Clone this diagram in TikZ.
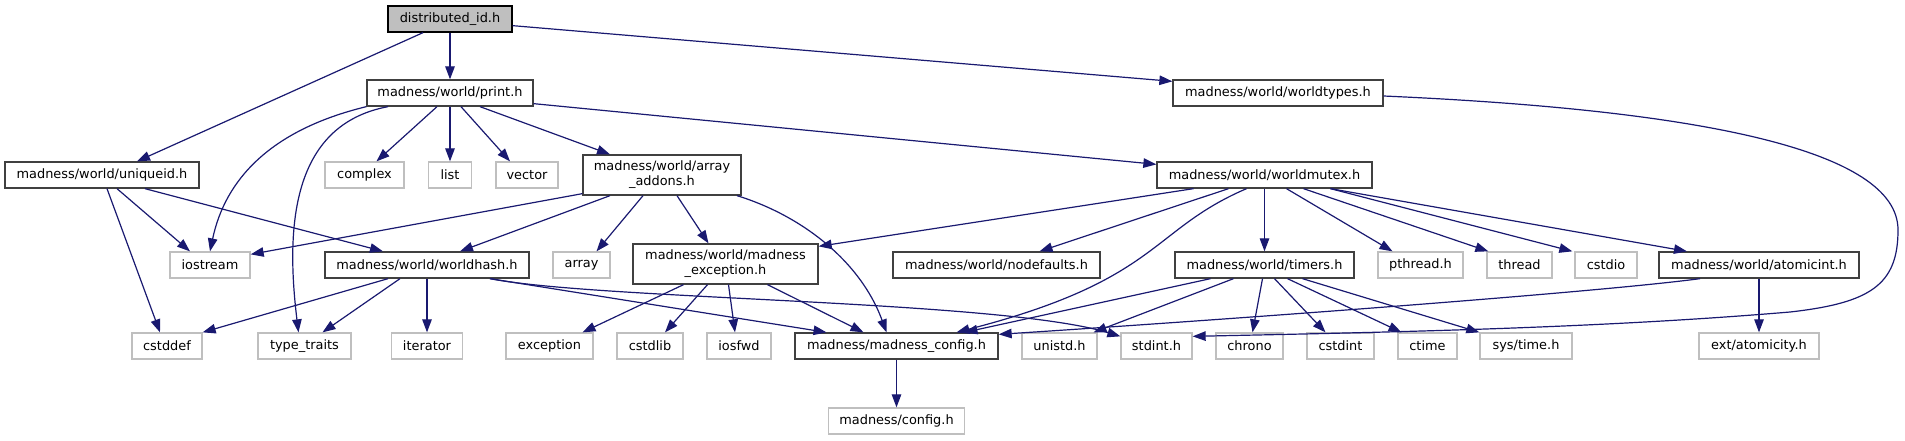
\documentclass[tikz,border=0pt]{standalone}
\usepackage{fontspec}
\setmainfont{DejaVu Sans}
\usetikzlibrary{arrows.meta}
\definecolor{edgeblue}{HTML}{191970}
\definecolor{docgray}{HTML}{404040}
\definecolor{extgray}{HTML}{BFBFBF}
\tikzset{
  D/.style={draw=docgray, fill=white, line width=1.3pt, minimum height=26pt,
    inner sep=0pt, align=center, font=\fontsize{12.9}{15}\selectfont},
  X/.style={D, draw=extgray},
  R/.style={D, draw=black, fill=extgray},
  a/.style={-{Triangle[length=13pt,width=9.5pt]}, line width=1.2pt, color=edgeblue},
}

\begin{document}
\begin{tikzpicture}[x=1pt, y=-1pt]
\useasboundingbox (0,0) rectangle (1905,440);

% ═══════════════════════════════════════════════════════════════
% ROW 0 / 1 -- root and direct includes
% ═══════════════════════════════════════════════════════════════
\node[R, minimum width=124pt] at (450,19) (dist) {distributed\_id.h};

\node[D, minimum width=166pt] at (450,93) (print) {madness/world/print.h};
\node[D, minimum width=210pt] at (1278,93) (worldtypes) {madness/world/worldtypes.h};

% ═══════════════════════════════════════════════════════════════
% ROW 2
% ═══════════════════════════════════════════════════════════════
\node[D, minimum width=194pt] at (102,175) (uniqueid) {madness/world/uniqueid.h};
\node[X, minimum width=79pt] at (364.5,175) (complex) {complex};
\node[X, minimum width=43pt] at (450,175) (list) {list};
\node[X, minimum width=62pt] at (527,175) (vector) {vector};
\node[D, minimum width=158pt, minimum height=40pt] at (662,175) (addons)
  {madness/world/array\\\_addons.h};
\node[D, minimum width=215pt] at (1264.5,175) (worldmutex) {madness/world/worldmutex.h};

% ═══════════════════════════════════════════════════════════════
% ROW 3
% ═══════════════════════════════════════════════════════════════
\node[X, minimum width=80pt] at (210,265) (iostream) {iostream};
\node[D, minimum width=204pt] at (427,265) (worldhash) {madness/world/worldhash.h};
\node[X, minimum width=57pt] at (581.5,265) (array) {array};
\node[D, minimum width=185pt, minimum height=40pt] at (725.5,264) (exch)
  {madness/world/madness\\\_exception.h};
\node[D, minimum width=207pt] at (996.5,265) (nodefaults) {madness/world/nodefaults.h};
\node[D, minimum width=179pt] at (1264.5,265) (timers) {madness/world/timers.h};
\node[X, minimum width=85pt] at (1420.5,265) (pthread) {pthread.h};
\node[X, minimum width=65pt] at (1519.5,265) (thread) {thread};
\node[X, minimum width=62pt] at (1606,265) (cstdio) {cstdio};
\node[D, minimum width=200pt] at (1759,265) (atomicint) {madness/world/atomicint.h};

% ═══════════════════════════════════════════════════════════════
% ROW 4
% ═══════════════════════════════════════════════════════════════
\node[X, minimum width=70pt] at (167,346) (cstddef) {cstddef};
\node[X, minimum width=93pt] at (304.5,346) (type_traits) {type\_traits};
\node[X, minimum width=71pt] at (427,346) (iterator) {iterator};
\node[X, minimum width=87pt] at (549.5,346) (exception) {exception};
\node[X, minimum width=66pt] at (650,346) (cstdlib) {cstdlib};
\node[X, minimum width=64pt] at (739,346) (iosfwd) {iosfwd};
\node[D, minimum width=203pt] at (896.5,346) (mconfig) {madness/madness\_config.h};
\node[X, minimum width=75pt] at (1059.5,346) (unistd) {unistd.h};
\node[X, minimum width=71pt] at (1156.5,346) (stdint) {stdint.h};
\node[X, minimum width=67pt] at (1249.5,346) (chrono) {chrono};
\node[X, minimum width=67pt] at (1340.5,346) (cstdint) {cstdint};
\node[X, minimum width=59pt] at (1427.5,346) (ctime) {ctime};
\node[X, minimum width=92pt] at (1526,346) (systime) {sys/time.h};
\node[X, minimum width=120pt] at (1759,346) (atomicity) {ext/atomicity.h};

% ROW 5
\node[X, minimum width=136pt] at (896.5,421) (configh) {madness/config.h};

% ═══════════════════════════════════════════════════════════════
% EDGES
% ═══════════════════════════════════════════════════════════════
% distributed_id.h
\draw[a] ([xshift=-27pt]dist.south) -- ([xshift=35pt]uniqueid.north);
\draw[a] (dist.south) -- (print.north);
\draw[a] ([yshift=7pt]dist.south east) -- ([yshift=-2pt]worldtypes.north west);

% print.h
\draw[a] (print.south west) .. controls (270,130) and (225,180) .. (iostream.north);
\draw[a] ([xshift=-62pt]print.south) .. controls (290,125) and (286,230)
  .. ([xshift=-6pt]type_traits.north);
\draw[a] ([xshift=-13pt]print.south) -- ([xshift=12pt]complex.north);
\draw[a] (print.south) -- (list.north);
\draw[a] ([xshift=11pt]print.south) -- ([xshift=-17pt]vector.north);
\draw[a] ([xshift=30pt]print.south) -- ([xshift=-52pt]addons.north);
\draw[a] ([yshift=3pt]print.south east) -- ([yshift=-3pt]worldmutex.north west);

% worldtypes.h
\draw[a] ([yshift=-3pt]worldtypes.east) .. controls (1700,110) and (1898,150) .. (1898,230)
  .. controls (1898,285) and (1870,303) .. (1790,312)
  .. controls (1600,328) and (1400,332) .. ([yshift=-4pt]stdint.north east);

% uniqueid.h
\draw[a] ([xshift=5pt]uniqueid.south) -- ([xshift=-7pt]cstddef.north);
\draw[a] ([xshift=15pt]uniqueid.south) -- ([xshift=-20pt]iostream.north);
\draw[a] ([xshift=43pt]uniqueid.south) -- ([xshift=-44pt]worldhash.north);

% array_addons.h
\draw[a] ([yshift=2pt]addons.south west) -- ([yshift=-3pt]iostream.north east);
\draw[a] ([xshift=-52pt]addons.south) -- ([xshift=33pt]worldhash.north);
\draw[a] ([xshift=-19pt]addons.south) -- ([xshift=15pt]array.north);
\draw[a] ([xshift=15pt]addons.south) -- ([xshift=-17pt]exch.north);
\draw[a] ([xshift=75pt]addons.south) .. controls (800,215) and (860,260)
  .. ([xshift=-10pt]mconfig.north);

% worldmutex.h
\draw[a] ([xshift=-71pt]worldmutex.south) -- ([yshift=-3pt]exch.north east);
\draw[a] ([xshift=-36pt]worldmutex.south) -- ([xshift=43pt]nodefaults.north);
\draw[a] ([xshift=-18pt]worldmutex.south) .. controls (1150,230) and (1160,280)
  .. ([xshift=60pt]mconfig.north);
\draw[a] (worldmutex.south) -- (timers.north);
\draw[a] ([xshift=22pt]worldmutex.south) -- ([xshift=-28pt]pthread.north);
\draw[a] ([xshift=39pt]worldmutex.south) -- ([xshift=2pt]thread.north west);
\draw[a] ([xshift=66pt]worldmutex.south) -- ([xshift=-2pt]cstdio.north west);
\draw[a] ([xshift=66pt]worldmutex.south) -- ([xshift=-72pt]atomicint.north);

% worldhash.h
\draw[a] ([xshift=-39pt]worldhash.south) -- (cstddef.north east);
\draw[a] ([xshift=-27pt]worldhash.south) -- ([xshift=18pt]type_traits.north);
\draw[a] (worldhash.south) -- (iterator.north);
\draw[a] ([xshift=63pt]worldhash.south) -- ([xshift=-70pt]mconfig.north);
\draw[a] ([xshift=63pt]worldhash.south) .. controls (600,300) and (1000,300)
  .. ([yshift=-4pt]stdint.north west);

% madness_exception.h
\draw[a] ([xshift=-42pt]exch.south) -- ([xshift=33pt]exception.north);
\draw[a] ([xshift=-18pt]exch.south) -- ([xshift=15pt]cstdlib.north);
\draw[a] ([xshift=3pt]exch.south) -- ([xshift=-4pt]iosfwd.north);
\draw[a] ([xshift=42pt]exch.south) -- ([xshift=-33pt]mconfig.north);

% timers.h
\draw[a] ([xshift=-54pt]timers.south) -- ([xshift=68pt]mconfig.north);
\draw[a] ([xshift=-31pt]timers.south) -- ([xshift=34pt]unistd.north);
\draw[a] ([xshift=-2pt]timers.south) -- ([xshift=3pt]chrono.north);
\draw[a] ([xshift=10pt]timers.south) -- ([xshift=-15pt]cstdint.north);
\draw[a] ([xshift=23pt]timers.south) -- ([xshift=-26pt]ctime.north);
\draw[a] ([xshift=38pt]timers.south) -- (systime.north west);

% atomicint.h
\draw[a] (atomicint.south) -- (atomicity.north);
\draw[a] ([xshift=-59pt]atomicint.south) .. controls (1600,292) and (1250,318)
  .. ([yshift=-2pt]mconfig.north east);

% madness_config.h
\draw[a] (mconfig.south) -- (configh.north);

\end{tikzpicture}
\end{document}
